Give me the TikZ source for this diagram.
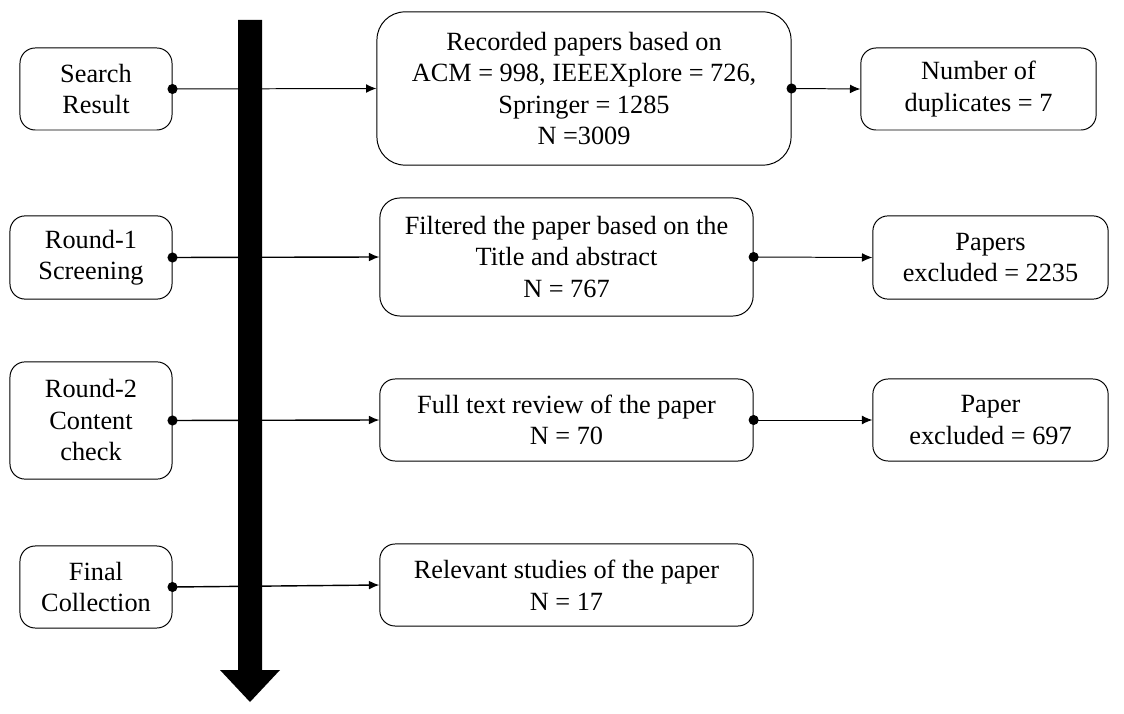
\documentclass[tikz,border=0pt]{standalone}
\usepackage{fontspec}
\setmainfont{Liberation Serif}
\usetikzlibrary{arrows.meta}

\begin{document}
\begin{tikzpicture}[x=0.025cm, y=-0.025cm, line width=0.7pt,
	every node/.style={font=\fontsize{18.7}{22.4}\selectfont},
	box/.style={draw, rounded corners=0.38cm, align=center, inner sep=0pt},
	conn/.style={{Circle[length=2.5mm]}-{Latex[length=2.6mm, width=2.2mm]}, shorten <=-1.25mm},
	>={Latex[length=2.6mm]}]
	\useasboundingbox (0,0) rectangle (1124,714);
	% stage boxes on the left
	\node[box, minimum width=3.8cm, minimum height=2.05cm] (srch) at (96,89) {Search\\Result};
	\node[box, minimum width=4.05cm, minimum height=2.08cm] (rnd1) at (91,257.5) {Round-1\\Screening};
	\node[box, minimum width=4.05cm, minimum height=2.93cm] (rnd2) at (91,420.5) {Round-2\\Content\\check};
	\node[box, minimum width=3.8cm, minimum height=2.05cm] (fin) at (96,587) {Final\\Collection};
	% middle column
	\node[box, rounded corners=0.7cm, minimum width=10.35cm, minimum height=3.83cm] (rec) at (584,88.5) {Recorded papers based on\\ACM = 998, IEEEXplore = 726,\\Springer = 1285\\N =3009};
	\node[box, rounded corners=0.5cm, minimum width=9.33cm, minimum height=2.95cm] (filt) at (566.5,257) {Filtered the paper based on the\\Title and abstract\\N = 767};
	\node[box, minimum width=9.33cm, minimum height=2.05cm] (full) at (566.5,420) {Full text review of the paper\\N = 70};
	\node[box, minimum width=9.33cm, minimum height=2.05cm] (rel) at (566.5,585) {Relevant studies of the paper\\N = 17};
	% right column
	\node[box, minimum width=5.88cm, minimum height=2.05cm] (dup) at (978.5,89) {Number of\\duplicates = 7};
	\node[box, minimum width=5.88cm, minimum height=2.08cm] (exc1) at (990.5,257.5) {Papers\\excluded = 2235};
	\node[box, minimum width=5.88cm, minimum height=2.05cm] (exc2) at (990.5,420) {Paper\\excluded = 697};
	% connectors
	\draw[conn] (srch.east) -- (rec.west);
	\draw[conn, line width=1pt] (rnd1.east) -- (filt.west);
	\draw[conn, line width=1pt] (rnd2.east) -- (full.west);
	\draw[conn, line width=1pt] (fin.east) -- (rel.west);
	\draw[conn] (rec.east) -- (dup.west);
	\draw[conn] (filt.east) -- (exc1.west);
	\draw[conn] (full.east) -- (exc2.west);
	% big timeline arrow
	\fill (238,20) -- (262,20) -- (262,670) -- (280,670) -- (250,702) -- (220,670) -- (238,670) -- cycle;
\end{tikzpicture}
\end{document}
